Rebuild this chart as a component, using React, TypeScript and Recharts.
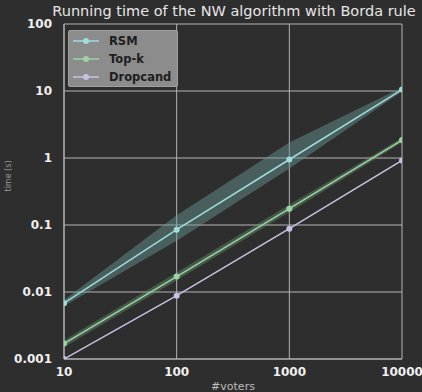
import React from 'react';
import { ComposedChart, Line, Area, XAxis, YAxis, CartesianGrid, Legend } from 'recharts';

const voters = [10, 100, 1000, 10000];
const rsm = [0.0068, 0.085, 0.95, 10.5];
const rsmLow = [0.0062, 0.058, 0.7, 9.8];
const rsmHigh = [0.0076, 0.14, 1.7, 11.3];
const topk = [0.0017, 0.017, 0.175, 1.85];
const topkLow = [0.0015, 0.015, 0.155, 1.7];
const topkHigh = [0.0019, 0.0195, 0.2, 2.0];
const dropcand = [0.001, 0.0088, 0.088, 0.92];
const xTicks = [10, 100, 1000, 10000];
const yTicks = [0.001, 0.01, 0.1, 1, 10, 100];

const data = voters.map((v, i) => ({
  voters: v,
  rsm: rsm[i],
  rsmBand: [rsmLow[i], rsmHigh[i]],
  topk: topk[i],
  topkBand: [topkLow[i], topkHigh[i]],
  dropcand: dropcand[i],
}));

const C_RSM = '#9fdcdc';
const C_TOPK = '#9ed3a6';
const C_DROP = '#c9c1e3';

const legendItems = [
  { name: 'RSM', color: C_RSM },
  { name: 'Top-k', color: C_TOPK },
  { name: 'Dropcand', color: C_DROP },
];

const LegendBox = () => (
  <div
    style={{
      background: '#8c8c8c',
      border: '1px solid #a0a0a0',
      borderRadius: 2,
      width: 110,
      height: 57,
      boxSizing: 'border-box',
      padding: '1px 0 0 3px',
      fontFamily: 'DejaVu Sans',
      fontWeight: 'bold',
      fontSize: 11.5,
      color: '#1e1e1e',
      textAlign: 'left',
    }}
  >
    {legendItems.map((it) => (
      <div key={it.name} style={{ display: 'flex', alignItems: 'center', height: 18 }}>
        <svg width={28} height={10} style={{ marginRight: 9 }}>
          <line x1={1} y1={5} x2={27} y2={5} stroke={it.color} strokeWidth={1.5} />
          <circle cx={14} cy={5} r={3} fill={it.color} />
        </svg>
        <span>{it.name}</span>
      </div>
    ))}
  </div>
);

const tickStyle = { fill: '#f0f0f0', fontSize: 12, fontWeight: 'bold', fontFamily: 'DejaVu Sans' };
const fmtY = (v: number) => String(v);

export default function App() {
  return (
    <div style={{ position: 'absolute', left: 0, top: 0, width: 422, height: 392, background: '#2e2e2e' }}>
      <div
        style={{
          position: 'absolute',
          left: 48,
          top: 3,
          width: 372,
          textAlign: 'center',
          color: '#e6e6e6',
          fontFamily: 'DejaVu Sans',
          fontSize: 14.5,
          whiteSpace: 'nowrap',
        }}
      >
        Running time of the NW algorithm with Borda rule
      </div>
      <ComposedChart width={422} height={392} data={data} margin={{ top: 24, right: 20, bottom: 0, left: 0 }}>
        <CartesianGrid stroke="#b4b4b4" strokeWidth={1} horizontalValues={yTicks} verticalValues={xTicks} />
        <XAxis
          dataKey="voters"
          type="number"
          scale="log"
          domain={[10, 10000]}
          ticks={xTicks}
          height={33}
          tick={tickStyle}
          tickLine={false}
          tickMargin={2}
          axisLine={{ stroke: '#b4b4b4' }}
          allowDataOverflow
          label={{ value: '#voters', position: 'insideBottom', offset: 2, fill: '#bcbcbc', fontSize: 11, fontFamily: 'DejaVu Sans' }}
        />
        <YAxis
          type="number"
          scale="log"
          domain={[0.001, 100]}
          ticks={yTicks}
          width={64}
          tick={tickStyle}
          tickFormatter={fmtY}
          tickLine={false}
          tickMargin={6}
          axisLine={{ stroke: '#b4b4b4' }}
          allowDataOverflow
          label={{ value: 'time (s)', angle: -90, position: 'insideLeft', offset: 8, fill: '#9a9a9a', fontSize: 8, fontFamily: 'DejaVu Sans' }}
        />
        <Area dataKey="rsmBand" type="linear" stroke="none" fill="#6a9c9a" fillOpacity={0.45} isAnimationActive={false} legendType="none" />
        <Area dataKey="topkBand" type="linear" stroke="none" fill="#6a9a70" fillOpacity={0.4} isAnimationActive={false} legendType="none" />
        <Line dataKey="rsm" type="linear" stroke={C_RSM} strokeWidth={1.5} dot={{ r: 3, fill: C_RSM, stroke: 'none' }} isAnimationActive={false} />
        <Line dataKey="topk" type="linear" stroke={C_TOPK} strokeWidth={1.5} dot={{ r: 3, fill: C_TOPK, stroke: 'none' }} isAnimationActive={false} />
        <Line dataKey="dropcand" type="linear" stroke={C_DROP} strokeWidth={1.5} dot={{ r: 3, fill: C_DROP, stroke: 'none' }} isAnimationActive={false} />
        <Legend
          layout="horizontal"
          verticalAlign="middle"
          align="center"
          content={<LegendBox />}
          wrapperStyle={{ position: 'absolute', left: 68, top: 30, width: 110, height: 57 }}
        />
      </ComposedChart>
    </div>
  );
}
